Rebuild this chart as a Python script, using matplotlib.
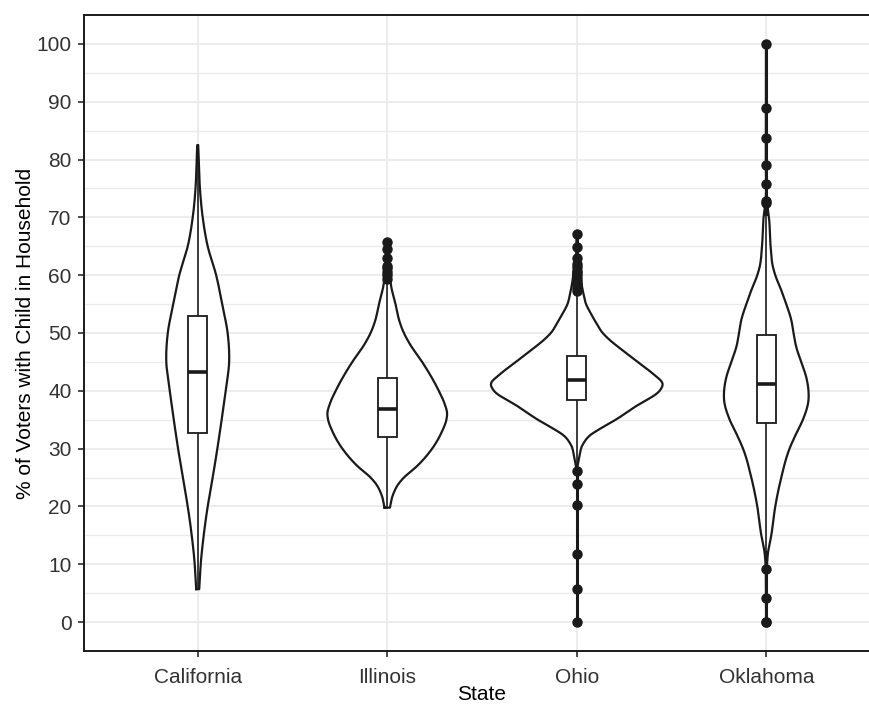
import numpy as np
import matplotlib
matplotlib.use('Agg')
import matplotlib.pyplot as plt

## Data ##
states = ['California', 'Illinois', 'Ohio', 'Oklahoma']

q1 = [32.7, 32.0, 38.4, 34.4]
medians = [43.3, 36.8, 41.8, 41.2]
q3 = [52.9, 42.2, 46.0, 49.6]
whisker_lo = [5.7, 19.8, 26.5, 12.2]
whisker_hi = [82.5, 59.0, 57.0, 70.5]

outliers = {
    'California': [],
    'Illinois': [59.3, 60.0, 60.6, 61.2, 61.6, 63.0, 64.5, 65.8],
    'Ohio': [0.0, 5.8, 11.8, 20.2, 23.8, 26.1,
             57.3, 57.8, 58.3, 58.8, 59.3, 59.8, 60.3, 60.8, 61.4, 62.0, 62.9, 64.9, 67.1],
    'Oklahoma': [0.0, 0.1, 4.2, 9.2, 72.5, 72.9, 75.8, 79.0, 83.8, 88.9, 100.0],
}

# violin density profiles (value, relative density)
violin_y = {
    'California': [5.7, 7, 10, 15, 20, 25, 30, 35, 40, 45, 50, 55, 60, 65, 70, 75, 80, 82.5],
    'Illinois': [19.8, 22, 24, 25, 27, 30, 33, 35, 36, 38, 40, 45, 48, 50, 52, 55, 58, 60, 62, 65.8],
    'Ohio': [26.5, 28.5, 30.7, 32.4, 33.5, 35, 37.3, 40, 41.2, 43, 45, 47, 48.8, 50,
             51.6, 53.4, 55, 56.8, 59, 61.3, 63, 67.1],
    'Oklahoma': [0.0, 5, 10.2, 12, 15, 20, 25, 30, 32.6, 35, 38.4, 40, 42.4, 45, 47.6, 50,
                 52.3, 55, 57.4, 60, 61.4, 65, 70, 72.3, 80, 90, 100],
}
violin_d = {
    'California': [1.5, 2, 3, 6, 10, 15, 19.7, 24, 28, 31.5, 30, 24.5, 18.5, 10, 5, 2.2, 1, 0.5],
    'Illinois': [2.7, 5.7, 11.7, 16.7, 30, 45, 55, 59.3, 60, 57, 51.7, 35, 23, 16.7, 12.3, 8.3, 4, 2.5, 1.2, 0.3],
    'Ohio': [0.3, 2.5, 6, 14, 24, 39, 59, 83, 86, 76, 61, 46, 33, 26, 20, 14, 9.3, 6.7,
             4.3, 2.7, 1.0, 0.3],
    'Oklahoma': [0.2, 0.3, 0.8, 1.7, 5, 9, 15, 23.3, 30, 36.7, 42.3, 42.3, 40, 35, 30, 27.3,
                 25, 20, 15, 9, 6.7, 4.3, 2.7, 1.0, 0.5, 0.4, 0.3],
}

# pixels per category unit in the reference, used to turn densities into widths
PX_PER_UNIT = 190.0
INK = '#1a1a1a'
FONT = 'Liberation Sans'


def smooth_profile(y, d, n=400):
    '''Cubic Hermite interpolation (Catmull-Rom style slopes) of a density profile'''
    y = np.asarray(y, float)
    d = np.asarray(d, float)
    m = np.gradient(d, y)
    yy = np.linspace(y[0], y[-1], n)
    idx = np.clip(np.searchsorted(y, yy) - 1, 0, len(y) - 2)
    h = y[idx + 1] - y[idx]
    t = (yy - y[idx]) / h
    h00 = 2 * t**3 - 3 * t**2 + 1
    h10 = t**3 - 2 * t**2 + t
    h01 = -2 * t**3 + 3 * t**2
    h11 = t**3 - t**2
    dd = h00 * d[idx] + h10 * h * m[idx] + h01 * d[idx + 1] + h11 * h * m[idx + 1]
    return yy, np.clip(dd, 0, None)


## Plotting ##
fig = plt.figure(figsize=(8.69, 7.10), dpi=100)
ax = fig.add_axes([84 / 869, 59 / 710, (880 - 84) / 869, (651 - 15) / 710])

ax.set_xlim(0.4, 4.6)
ax.set_ylim(-5, 105)
ax.set_yticks(np.arange(0, 101, 10))
ax.set_yticks(np.arange(5, 101, 10), minor=True)
ax.set_xticks(np.arange(1, len(states) + 1))
ax.set_xticklabels(states)

ax.grid(True, which='major', color='#ebebeb', lw=1.3, zorder=0)
ax.grid(True, which='minor', axis='y', color='#ebebeb', lw=1.0, zorder=0)
ax.set_axisbelow(True)

box_half = 9.5 / PX_PER_UNIT

for i, s in enumerate(states):
    x = i + 1
    yy, dd = smooth_profile(violin_y[s], violin_d[s])
    w = dd / PX_PER_UNIT
    xs = np.concatenate([x - w, (x + w)[::-1], [x - w[0]]])
    ys = np.concatenate([yy, yy[::-1], [yy[0]]])
    ax.fill(xs, ys, color='white', zorder=2)
    ax.plot(xs, ys, color=INK, lw=1.6, zorder=3, solid_joinstyle='round')

    pts = outliers[s]
    lo = min([whisker_lo[i]] + pts)
    hi = max([whisker_hi[i]] + pts)
    # whisker line through the violin
    ax.plot([x, x], [whisker_lo[i], whisker_hi[i]], color=INK, lw=1.2, zorder=4)
    # outliers joined to the whiskers
    if lo < whisker_lo[i]:
        ax.plot([x, x], [lo, whisker_lo[i]], color=INK, lw=2.2, zorder=4)
    if hi > whisker_hi[i]:
        ax.plot([x, x], [whisker_hi[i], hi], color=INK, lw=2.2, zorder=4)

    ax.add_patch(plt.Rectangle((x - box_half, q1[i]), 2 * box_half, q3[i] - q1[i],
                               facecolor='white', edgecolor=INK, lw=1.3, zorder=5))
    ax.plot([x - box_half, x + box_half], [medians[i], medians[i]], color=INK,
            lw=2.6, zorder=6, solid_capstyle='butt')
    if pts:
        ax.plot([x] * len(pts), pts, 'o', color=INK, ms=6.5, zorder=7)

for side in ['left', 'bottom', 'top', 'right']:
    ax.spines[side].set_color(INK)
    ax.spines[side].set_linewidth(1.4)

ax.tick_params(axis='both', which='major', length=4, width=1.1, color=INK,
               labelsize=15, labelcolor='#333333', pad=5)
ax.tick_params(axis='x', which='major', pad=8)
ax.tick_params(axis='y', which='minor', length=0)

for lab in ax.get_xticklabels() + ax.get_yticklabels():
    lab.set_fontfamily(FONT)

ax.set_xlabel('State', fontsize=15, fontfamily=FONT, color='black', labelpad=-1.5)
ax.set_ylabel('% of Voters with Child in Household', fontsize=15,
              fontfamily=FONT, color='black', labelpad=1)

plt.savefig('out.png', dpi=100)
